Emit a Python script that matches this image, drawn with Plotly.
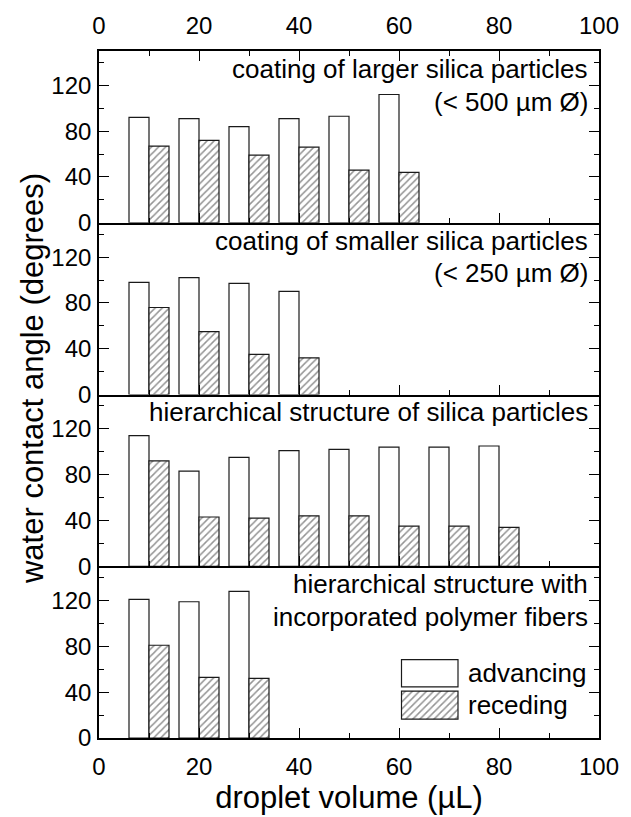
import plotly.graph_objects as go

# ---------------- data ----------------
volumes_p1 = [10, 20, 30, 40, 50, 60]
advancing_p1 = [92, 91, 84, 91, 93, 112]
receding_p1 = [67, 72, 59, 66, 46, 44]

volumes_p2 = [10, 20, 30, 40]
advancing_p2 = [98, 102, 97, 90]
receding_p2 = [76, 55, 35, 32]

volumes_p3 = [10, 20, 30, 40, 50, 60, 70, 80]
advancing_p3 = [114, 83, 95, 101, 102, 104, 104, 105]
receding_p3 = [92, 43, 42, 44, 44, 35, 35, 34]

volumes_p4 = [10, 20, 30]
advancing_p4 = [121, 119, 128]
receding_p4 = [81, 53, 52]

panel_labels = [
    ["coating of larger silica particles", "(< 500 µm Ø)"],
    ["coating of smaller silica particles", "(< 250 µm Ø)"],
    ["hierarchical structure of silica particles"],
    ["hierarchical structure with", "incorporated polymer fibers"],
]
series_names = ["advancing", "receding"]
x_ticks = [0, 20, 40, 60, 80, 100]
y_ticks = [0, 40, 80, 120]

# ---------------- style ----------------
FONT = "Liberation Sans, Arial, sans-serif"
W, H = 631, 817
ML, MR, MT, MB = 99, 25, 51, 75
BAR_W = 4
OFFSET = 2
EDGE = dict(color="#1a1a1a", width=1.2)
HATCH = dict(shape="/", fgcolor="#2a2a2a", bgcolor="white", size=5, solidity=0.3)
AX_LW = 1.6

panels = [
    (volumes_p1, advancing_p1, receding_p1),
    (volumes_p2, advancing_p2, receding_p2),
    (volumes_p3, advancing_p3, receding_p3),
    (volumes_p4, advancing_p4, receding_p4),
]

fig = go.Figure()
n = len(panels)
for i, (vol, adv, rec) in enumerate(panels):
    xr = "x" if i == 0 else f"x{i+1}"
    yr = "y" if i == 0 else f"y{i+1}"
    fig.add_trace(go.Bar(
        x=[v - OFFSET for v in vol], y=adv, width=BAR_W, name=series_names[0],
        marker=dict(color="white", line=EDGE), xaxis=xr, yaxis=yr, showlegend=False))
    fig.add_trace(go.Bar(
        x=[v + OFFSET for v in vol], y=rec, width=BAR_W, name=series_names[1],
        marker=dict(color="white", pattern=HATCH, line=EDGE), xaxis=xr, yaxis=yr,
        showlegend=False))

# legend swatches drawn inside bottom panel
LEG_X0, LEG_X1 = 60.5, 71.8
fig.add_trace(go.Bar(x=[(LEG_X0 + LEG_X1) / 2], y=[23.7], base=[44.7], width=LEG_X1 - LEG_X0,
                     marker=dict(color="white", line=EDGE), xaxis="x4", yaxis="y4",
                     showlegend=False, hoverinfo="skip"))
fig.add_trace(go.Bar(x=[(LEG_X0 + LEG_X1) / 2], y=[24.6], base=[16.4], width=LEG_X1 - LEG_X0,
                     marker=dict(color="white", pattern=HATCH, line=EDGE), xaxis="x4", yaxis="y4",
                     showlegend=False, hoverinfo="skip"))

# invisible trace to realise the top axis
fig.add_trace(go.Scatter(x=[0, 100], y=[-10, -10], mode="markers", marker=dict(opacity=0),
                         xaxis="x5", yaxis="y", showlegend=False, hoverinfo="skip"))

tickfont = dict(family=FONT, size=24, color="black")
common_x = dict(range=[0, 100], tickvals=x_ticks, ticks="inside", ticklen=10, tickwidth=1.4,
                tickcolor="black", showline=True, linecolor="black", linewidth=AX_LW,
                showgrid=False, zeroline=False, tickfont=tickfont,
                minor=dict(dtick=10, tick0=0, ticks="inside", ticklen=5, tickwidth=1.4,
                           tickcolor="black", showgrid=False))
common_y = dict(range=[0, 150], tickvals=y_ticks, ticks="inside", ticklen=10, tickwidth=1.4,
                tickcolor="black", showline=True, linecolor="black", linewidth=AX_LW,
                mirror="ticks", showgrid=False, zeroline=False, tickfont=tickfont,
                ticklabelstandoff=1,
                minor=dict(dtick=20, tick0=0, ticks="inside", ticklen=5, tickwidth=1.4,
                           tickcolor="black", showgrid=False))

layout = dict(width=W, height=H, margin=dict(l=ML, r=MR, t=MT, b=MB),
              plot_bgcolor="white", paper_bgcolor="white", barmode="overlay",
              font=dict(family=FONT, color="black"), showlegend=False)

for i in range(n):
    xk = "xaxis" if i == 0 else f"xaxis{i+1}"
    yk = "yaxis" if i == 0 else f"yaxis{i+1}"
    ya = "y" if i == 0 else f"y{i+1}"
    lo = (n - 1 - i) / n
    hi = (n - i) / n
    xa = dict(common_x, anchor=ya, showticklabels=(i == n - 1))
    if i > 0:
        xa["matches"] = "x"
    if i == n - 1:
        xa["ticklabelstandoff"] = 6
        xa["title"] = dict(text="droplet volume (µL)", font=dict(family=FONT, size=31),
                           standoff=4)
    layout[xk] = xa
    layout[yk] = dict(common_y, domain=[lo, hi], anchor="x" if i == 0 else f"x{i+1}")

layout["xaxis5"] = dict(common_x, overlaying="x", side="top", anchor="y",
                        showticklabels=True, ticklabelstandoff=6)

fig.update_layout(**layout)

# panel annotations
LINE1_OFF, LINE2_OFF = 18, 51  # px below panel top
panel_h = (H - MT - MB) / n
TEXT_RIGHT = 597  # px
annots = []
for i, lines in enumerate(panel_labels):
    top_px = MT + i * panel_h
    for j, t in enumerate(lines):
        ypx = top_px + (LINE1_OFF if j == 0 else LINE2_OFF)
        annots.append(dict(text=t, xref="paper", yref="paper",
                           x=(TEXT_RIGHT - ML) / (W - ML - MR),
                           y=1 - (ypx - MT) / (H - MT - MB),
                           xanchor="right", yanchor="middle", showarrow=False,
                           font=dict(family=FONT, size=26, color="black")))

# legend labels
for name, val in zip(series_names, [56.8, 28.5]):
    annots.append(dict(text=name, xref="x4", yref="y4", x=73.3, y=val, xanchor="left",
                       yanchor="middle", showarrow=False,
                       font=dict(family=FONT, size=26, color="black")))

# shared y title
YT_X, YT_Y = 31, 380  # px centre
annots.append(dict(text="water contact angle (degrees)", xref="paper", yref="paper",
                   x=(YT_X - ML) / (W - ML - MR), y=1 - (YT_Y - MT) / (H - MT - MB),
                   xanchor="center", yanchor="middle",
                   textangle=-90, showarrow=False,
                   font=dict(family=FONT, size=31, color="black")))
fig.update_layout(annotations=annots)

fig.write_html("out.html")
